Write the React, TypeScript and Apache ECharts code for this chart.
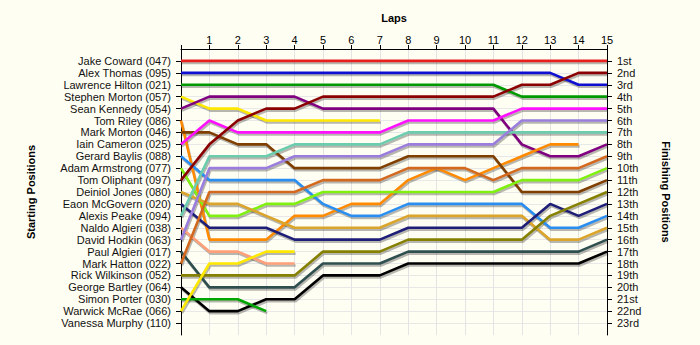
import React, { useEffect, useRef } from "react";
import * as echarts from "echarts";

const lapTicks = [0, 1, 2, 3, 4, 5, 6, 7, 8, 9, 10, 11, 12, 13, 14, 15];

const startingNames = [
  "Jake Coward (047)", "Alex Thomas (095)", "Lawrence Hilton (021)", "Stephen Morton (057)",
  "Sean Kennedy (054)", "Tom Riley (086)", "Mark Morton (046)", "Iain Cameron (025)",
  "Gerard Baylis (088)", "Adam Armstrong (077)", "Tom Oliphant (097)", "Deiniol Jones (080)",
  "Eaon McGovern (020)", "Alexis Peake (094)", "Naldo Algieri (038)", "David Hodkin (063)",
  "Paul Algieri (017)", "Mark Hatton (022)", "Rick Wilkinson (052)", "George Bartley (064)",
  "Simon Porter (030)", "Warwick McRae (066)", "Vanessa Murphy (110)",
];

const finishingLabels = [
  "1st", "2nd", "3rd", "4th", "5th", "6th", "7th", "8th", "9th", "10th", "11th", "12th",
  "13th", "14th", "15th", "16th", "17th", "18th", "19th", "20th", "21st", "22nd", "23rd",
];

const driverColors = [
  "#E8201E", "#0F0FD2", "#009A00", "#FFE800", "#800080", "#FF8A00", "#7F3F00", "#FF10FF",
  "#2A8EF0", "#7FF010", "#8B0000", "#DAA52A", "#1E1E78", "#6CCDAE", "#FFA07A", "#9A7DDC",
  "#2F4F4F", "#D2691E", "#858000", "#000000", "#00A600", "#FFE800", "#999999",
];

// positions per lap (lap 0 = grid)
const jakeCoward = [1, 1, 1, 1, 1, 1, 1, 1, 1, 1, 1, 1, 1, 1, 1, 1];
const alexThomas = [2, 2, 2, 2, 2, 2, 2, 2, 2, 2, 2, 2, 2, 2, 3, 3];
const lawrenceHilton = [3, 3, 3, 3, 3, 3, 3, 3, 3, 3, 3, 3, 4, 4, 4, 4];
const stephenMorton = [4, 5, 5, 6, 6, 6, 6, 6];
const seanKennedy = [5, 4, 4, 4, 4, 5, 5, 5, 5, 5, 5, 5, 8, 9, 9, 8];
const tomRiley = [6, 16, 16, 16, 14, 14, 13, 13, 11, 10, 11, 10, 9, 8, 8];
const markMorton = [7, 7, 8, 8, 10, 10, 10, 10, 9, 9, 9, 9, 12, 12, 12, 11];
const iainCameron = [8, 6, 7, 7, 7, 7, 7, 7, 6, 6, 6, 6, 5, 5, 5, 5];
const gerardBaylis = [9, 11, 11, 11, 11, 13, 14, 14, 13, 13, 13, 13, 13, 15, 15, 14];
const adamArmstrong = [10, 14, 14, 13, 13, 12, 12, 12, 12, 12, 12, 12, 11, 11, 11, 10];
const tomOliphant = [11, 8, 6, 5, 5, 4, 4, 4, 4, 4, 4, 4, 3, 3, 2, 2];
const deiniolJones = [12, 13, 13, 14, 15, 15, 15, 15, 14, 14, 14, 14, 14, 16, 16, 15];
const eaonMcGovern = [13, 15, 15, 15, 16, 16, 16, 16, 15, 15, 15, 15, 15, 13, 14, 13];
const alexisPeake = [14, 9, 9, 9, 8, 8, 8, 8, 7, 7, 7, 7, 7, 7, 7, 7];
const naldoAlgieri = [15, 17, 17, 18, 18];
const davidHodkin = [16, 10, 10, 10, 9, 9, 9, 9, 8, 8, 8, 8, 6, 6, 6, 6];
const paulAlgieri = [17, 20, 20, 20, 20, 18, 18, 18, 17, 17, 17, 17, 17, 17, 17, 16];
const markHatton = [18, 12, 12, 12, 12, 11, 11, 11, 10, 10, 10, 11, 10, 10, 10, 9];
const rickWilkinson = [19, 19, 19, 19, 19, 17, 17, 17, 16, 16, 16, 16, 16, 14, 13, 12];
const georgeBartley = [20, 22, 22, 21, 21, 19, 19, 19, 18, 18, 18, 18, 18, 18, 18, 17];
const simonPorter = [21, 21, 21, 22];
const warwickMcRae = [22, 18, 18, 17, 17];
const vanessaMurphy: number[] = [];

const driverPositions = [
  jakeCoward, alexThomas, lawrenceHilton, stephenMorton, seanKennedy, tomRiley, markMorton,
  iainCameron, gerardBaylis, adamArmstrong, tomOliphant, deiniolJones, eaonMcGovern,
  alexisPeake, naldoAlgieri, davidHodkin, paulAlgieri, markHatton, rickWilkinson,
  georgeBartley, simonPorter, warwickMcRae, vanessaMurphy,
];

const positionTicks = startingNames.map((_, i) => i + 1);

export default function App() {
  const ref = useRef<HTMLDivElement>(null);

  useEffect(() => {
    document.body.style.margin = "0";
    const chart = echarts.init(ref.current!, null, { renderer: "svg" });
    const font = "'Liberation Sans', Arial, sans-serif";
    const toData = (arr: number[]) => arr.map((p, lap) => [lapTicks[lap], p]);

    const shadowSeries = driverPositions.map((arr) => ({
      type: "line" as const,
      xAxisIndex: 1,
      yAxisIndex: 2,
      symbol: "none",
      silent: true,
      z: 1,
      data: toData(arr),
      lineStyle: { color: "rgba(0,0,0,0.28)", width: 2.6 },
    }));

    const mainSeries = driverPositions.map((arr, i) => ({
      type: "line" as const,
      name: startingNames[i],
      xAxisIndex: 0,
      yAxisIndex: 0,
      symbol: "none",
      silent: true,
      z: 2,
      data: toData(arr),
      lineStyle: { color: driverColors[i], width: 2.6 },
    }));

    chart.setOption({
      animation: false,
      backgroundColor: "#FFFEF3",
      grid: [
        { left: 181, right: 93, top: 49, bottom: 10 },
        { left: 182, right: 92, top: 51, bottom: 8 },
      ],
      xAxis: [
        {
          type: "value",
          gridIndex: 0,
          position: "top",
          min: 0,
          max: 15,
          interval: 1,
          name: "Laps",
          nameLocation: "middle",
          nameGap: 26,
          nameTextStyle: { fontFamily: font, fontSize: 11, fontWeight: "bold", color: "#000" },
          axisLine: { lineStyle: { color: "#000", width: 1 } },
          axisTick: { show: true, length: 4, lineStyle: { color: "#000" } },
          axisLabel: {
            fontFamily: font,
            fontSize: 11,
            color: "#000",
            margin: 4,
            formatter: (v: number) => (v === 0 ? "" : String(v)),
          },
          splitLine: { show: true, lineStyle: { color: "#E4E4E4", width: 1 } },
        },
        {
          type: "value",
          gridIndex: 1,
          show: false,
          min: 0,
          max: 15,
          interval: 1,
        },
      ],
      yAxis: [
        {
          type: "value",
          gridIndex: 0,
          position: "left",
          inverse: true,
          min: 0,
          max: 24,
          interval: 1,
          name: "Starting Positions",
          nameLocation: "middle",
          nameGap: 145,
          nameRotate: 90,
          nameTextStyle: { fontFamily: font, fontSize: 11, fontWeight: "bold", color: "#000" },
          axisLine: { show: true, lineStyle: { color: "#000", width: 1 } },
          axisTick: { show: true, length: 5, customValues: positionTicks, lineStyle: { color: "#000" } },
          axisLabel: {
            fontFamily: font,
            fontSize: 11,
            color: "#111",
            margin: 10,
            customValues: positionTicks,
            formatter: (v: number) => startingNames[v - 1] ?? "",
          },
          splitLine: { show: true, lineStyle: { color: "#E8E8E8", width: 1 } },
        },
        {
          type: "value",
          gridIndex: 0,
          position: "right",
          inverse: true,
          min: 0,
          max: 24,
          interval: 1,
          name: "Finishing Positions",
          nameLocation: "middle",
          nameGap: 53,
          nameRotate: -90,
          nameTextStyle: { fontFamily: font, fontSize: 11, fontWeight: "bold", color: "#000" },
          axisLine: { show: true, lineStyle: { color: "#000", width: 1 } },
          axisTick: { show: true, length: 5, customValues: positionTicks, lineStyle: { color: "#000" } },
          axisLabel: {
            fontFamily: font,
            fontSize: 11,
            color: "#111",
            margin: 10,
            customValues: positionTicks,
            formatter: (v: number) => finishingLabels[v - 1] ?? "",
          },
          splitLine: { show: false },
        },
        {
          type: "value",
          gridIndex: 1,
          show: false,
          inverse: true,
          min: 0,
          max: 24,
          interval: 1,
        },
      ],
      series: [...shadowSeries, ...mainSeries],
    });
    return () => chart.dispose();
  }, []);

  return <div ref={ref} style={{ width: 700, height: 345 }} />;
}
